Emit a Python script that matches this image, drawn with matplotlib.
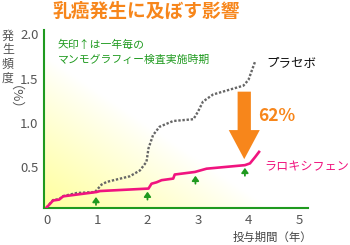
import numpy as np
import matplotlib
matplotlib.use("Agg")
import matplotlib.pyplot as plt
from matplotlib.patches import FancyArrow

plt.rcParams["font.family"] = ["Noto Sans CJK JP", "DejaVu Sans"]

# Placebo (dotted gray) cumulative incidence, % by year
placebo_years = [0.0, 0.13, 0.25, 0.33, 0.6, 0.96, 1.06, 1.09, 1.19, 1.65, 1.85,
                 1.98, 2.02, 2.11, 2.24, 2.51, 2.91, 3.0, 3.1, 3.3, 3.9, 4.0, 4.13]
placebo_rate = [0.04, 0.125, 0.135, 0.17, 0.205, 0.216, 0.28, 0.30, 0.33, 0.394, 0.46,
                0.557, 0.71, 0.86, 0.955, 1.02, 1.04, 1.125, 1.24, 1.32, 1.42, 1.485, 1.69]

# Raloxifene (pink)
ralox_years = [0.0, 0.13, 0.25, 0.33, 0.99, 1.06, 2.02, 2.08, 2.18, 2.28, 2.51,
               2.54, 2.94, 3.17, 3.93, 4.03, 4.13, 4.21]
ralox_rate = [0.04, 0.12, 0.13, 0.167, 0.216, 0.227, 0.255, 0.31, 0.326, 0.35, 0.368,
              0.414, 0.443, 0.48, 0.52, 0.54, 0.61, 0.67]

# mammography markers (green arrows): x and arrow tip height
exam_years = [0.98, 2.0, 2.95, 3.93]
exam_tips = [0.16, 0.22, 0.40, 0.49]

x_ticks = [0, 1, 2, 3, 4, 5]
y_ticks = [0.5, 1.0, 1.5, 2.0]
reduction_label = "62%"

ORANGE = "#f7861b"
GREEN = "#1f9a1f"
PINK = "#f0147f"

fig = plt.figure(figsize=(3.5, 2.45), dpi=100)
W, H = 350, 245
ax = fig.add_axes([44 / W, 1 - 208 / H, (308 - 44) / W, (208 - 30) / H])

# yellow-to-white background gradient
u, v = np.meshgrid(np.linspace(0, 1, 200), np.linspace(0, 1, 200))
t = np.clip(1 - (u + v) / 0.85, 0, 1) ** 0.9
yellow = np.array([1.0, 1.0, 0.62])
img = np.ones((200, 200, 3)) * (1 - t[..., None]) + yellow * t[..., None]
ax.imshow(img, extent=[0, 1, 0, 1], transform=ax.transAxes, origin="lower",
          aspect="auto", zorder=0)

ax.plot(placebo_years, placebo_rate, color="#666666", lw=1.7,
        linestyle=(0, (1, 0.75)), zorder=2)
ax.plot(ralox_years, ralox_rate, color=PINK, lw=1.9, zorder=3)

for xv, tip in zip(exam_years, exam_tips):
    ax.annotate("", xy=(xv, tip), xytext=(xv, tip - 0.09),
                arrowprops=dict(arrowstyle="-|>,head_width=0.2,head_length=0.28",
                                color=GREEN, lw=1.3, shrinkA=0, shrinkB=0),
                zorder=4)

ax.add_patch(FancyArrow(3.917, 1.352, 0, 0.588 - 1.352, width=0.263,
                        head_width=0.614, head_length=0.329,
                        length_includes_head=True, color=ORANGE, lw=0, zorder=5))

ax.set_xlim(-0.05, 5.18)
ax.set_ylim(0.035, 2.05)
ax.set_xticks(x_ticks)
ax.set_yticks(y_ticks)
ax.set_xticklabels([str(x) for x in x_ticks])
ax.set_yticklabels([f"{y:.1f}" for y in y_ticks])
ax.tick_params(length=0, labelsize=9.5, labelcolor="#555555")
ax.tick_params(axis="x", pad=4)
ax.tick_params(axis="y", pad=4)
for side in ("top", "right"):
    ax.spines[side].set_visible(False)
for side in ("left", "bottom"):
    ax.spines[side].set_color(GREEN)
    ax.spines[side].set_linewidth(1.5)

# texts
fig.text(52 / W, 1 - 11 / H, "乳癌発生に及ぼす影響", color=ORANGE, fontsize=13.5,
         fontweight="bold", ha="left", va="center")
fig.text(8 / W, 1 - 57 / H, "発\n生\n頻\n度", color="#555555", fontsize=8.6,
         ha="center", va="center", linespacing=1.1)
fig.text(8 / W, 1 - 104 / H, "（%）", color="#555555", fontsize=9.5,
         ha="center", va="center", rotation=270)
fig.text(58 / W, 1 - 45 / H, "矢印↑は一年毎の", color=GREEN, fontsize=7.8,
         ha="left", va="center")
fig.text(58 / W, 1 - 60 / H, "マンモグラフィー検査実施時期", color=GREEN, fontsize=7.8,
         ha="left", va="center")
fig.text(266 / W, 1 - 63 / H, "プラセボ", color="#111111", fontsize=9,
         ha="left", va="center")
fig.text(258 / W, 1 - 116 / H, reduction_label, color=ORANGE, fontsize=12.5,
         fontweight="bold", ha="left", va="center")
fig.text(264 / W, 1 - 167 / H, "ラロキシフェン", color=PINK, fontsize=8.7,
         ha="left", va="center")
fig.text(272 / W, 1 - 237 / H, "投与期間（年）", color="#444444", fontsize=8.2,
         ha="center", va="center")

fig.savefig("out.png", dpi=100)
